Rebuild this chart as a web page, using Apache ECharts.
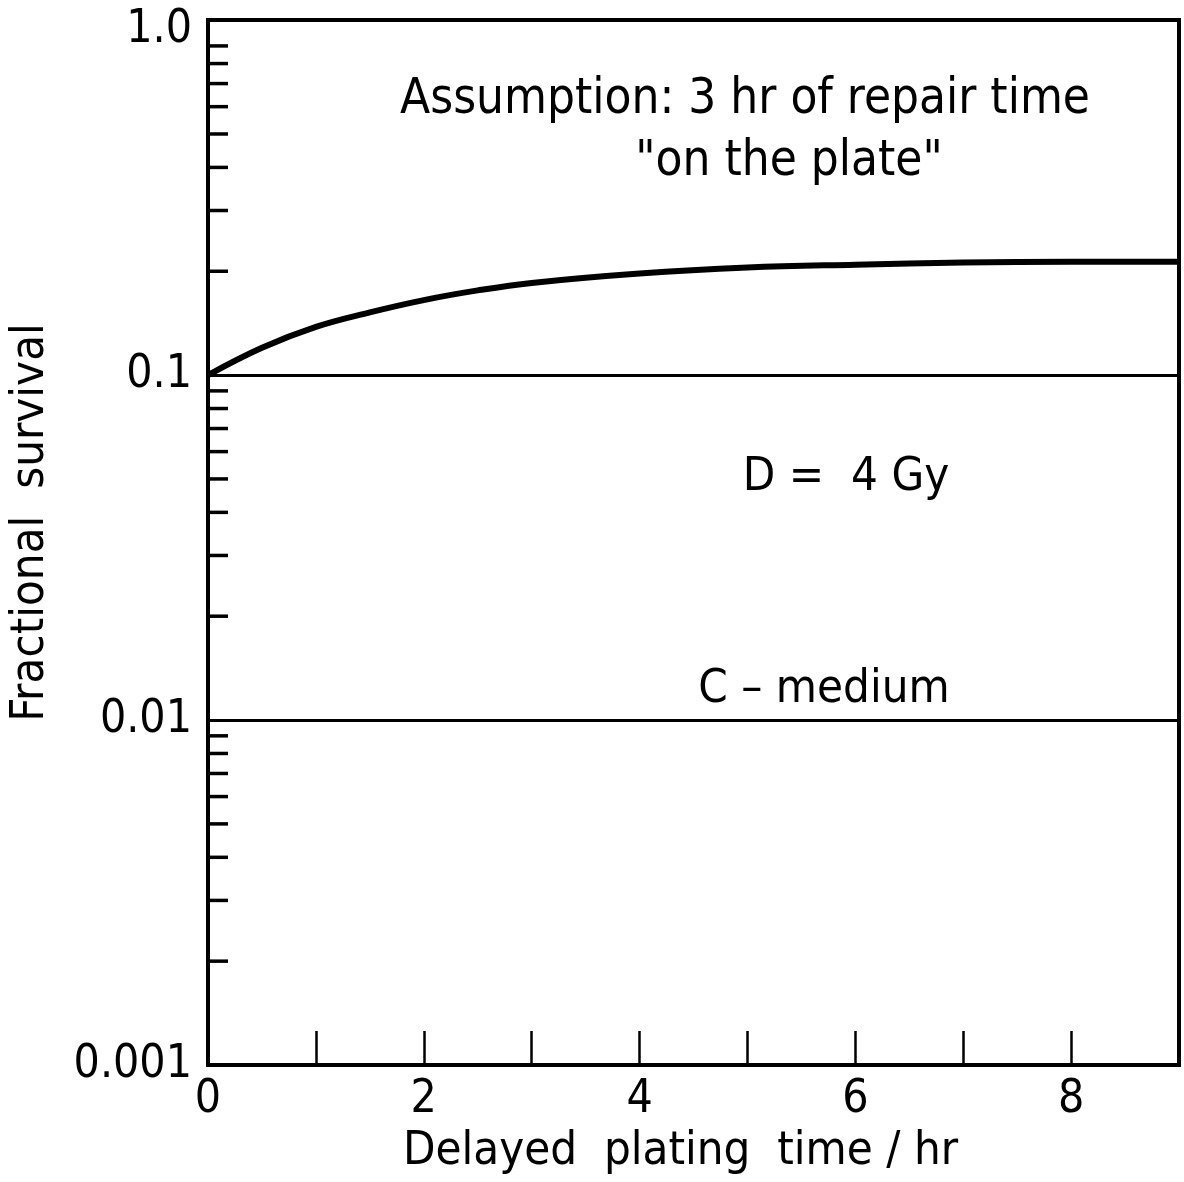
<!DOCTYPE html>
<html>
<head>
<meta charset="utf-8">
<script src="https://cdn.jsdelivr.net/npm/echarts@6/dist/echarts.min.js"></script>
<style>
  html, body { margin: 0; padding: 0; background: #fff; }
  #chart { width: 1184px; height: 1182px; }
</style>
</head>
<body>
<div id="chart"></div>
<script>
// curve: survival vs delayed plating time
const hours = [0, 0.5, 1, 1.5, 2, 2.5, 3, 4, 5, 6, 7, 8, 9];
const survival = [0.100, 0.120, 0.138, 0.152, 0.165, 0.176, 0.185, 0.197, 0.205, 0.209, 0.212, 0.213, 0.213];

// plain horizontal lines drawn across the box
const refLevels = [0.1, 0.01];

// log minor ticks along the left edge
const yMinorTicks = [
    0.002, 0.003, 0.004, 0.005, 0.006, 0.007, 0.008, 0.009,
    0.02, 0.03, 0.04, 0.05, 0.06, 0.07, 0.08, 0.09,
    0.2, 0.3, 0.4, 0.5, 0.6, 0.7, 0.8, 0.9
];
const yLabels = { '-3': '0.001', '-2': '0.01', '-1': '0.1', '0': '1.0' };
const xLabels = ['0', '2', '4', '6', '8'];

const FONT = "'DejaVu Sans Condensed', 'Liberation Sans Narrow', 'DejaVu Sans', sans-serif";

const chart = echarts.init(document.getElementById('chart'));

chart.setOption({
    backgroundColor: '#fff',
    animation: false,
    grid: {
        left: 208, right: 5, top: 20, bottom: 117,
        outerBoundsMode: 'none', containLabel: false,
        show: true, borderColor: '#000', borderWidth: 4
    },
    xAxis: {
        type: 'value', min: 0, max: 9, interval: 1,
        name: 'Delayed  plating  time / hr',
        nameLocation: 'middle', nameGap: 62,
        nameTextStyle: { color: '#000', fontSize: 47, fontFamily: FONT, padding: [0, 26, 0, 0] },
        axisLine: { show: false },
        axisTick: { inside: true, length: 34, lineStyle: { color: '#000', width: 2.5 } },
        axisLabel: {
            color: '#000', fontSize: 46, fontFamily: FONT, margin: 12,
            formatter: v => xLabels.includes(String(v)) ? String(v) : ''
        },
        splitLine: { show: false }
    },
    yAxis: {
        type: 'log', min: 0.001, max: 1.07, logBase: 10,
        name: 'Fractional  survival',
        nameLocation: 'middle', nameGap: 154, nameRotate: 90,
        nameTextStyle: { color: '#000', fontSize: 47, fontFamily: FONT, padding: [0, 0, 0, 40] },
        axisLine: { show: false },
        axisTick: { show: false },
        axisLabel: {
            color: '#000', fontSize: 46, fontFamily: FONT, margin: 16,
            formatter: v => {
                const e = Math.log10(v);
                const r = Math.round(e);
                return Math.abs(e - r) < 1e-6 ? (yLabels[String(r)] || '') : '';
            }
        },
        splitLine: { show: false }
    },
    series: [
        {
            type: 'line',
            data: hours.map((h, i) => [h, survival[i]]),
            smooth: 0.4,
            showSymbol: false,
            lineStyle: { color: '#000', width: 6 },
            z: 3,
            markLine: {
                silent: true,
                symbol: ['none', 'none'],
                label: { show: false },
                lineStyle: { color: '#000', width: 3, type: 'solid' },
                data: refLevels.map(v => ({ yAxis: v }))
            }
        },
        {
            type: 'custom',
            silent: true,
            clip: false,
            data: yMinorTicks.map(v => [0, v]),
            renderItem: function (params, api) {
                const p = api.coord([api.value(0), api.value(1)]);
                return {
                    type: 'line',
                    shape: { x1: p[0], y1: p[1], x2: p[0] + 20, y2: p[1] },
                    style: { stroke: '#000', lineWidth: 3.5 }
                };
            },
            z: 4
        }
    ],
    graphic: [
        {
            type: 'text',
            style: { text: 'Assumption: 3 hr of repair time', fill: '#000', fontSize: 49, fontFamily: FONT,
                x: 745, y: 100, align: 'center', verticalAlign: 'middle' }
        },
        {
            type: 'text',
            style: { text: '"on the plate"', fill: '#000', fontSize: 49, fontFamily: FONT,
                x: 789, y: 162, align: 'center', verticalAlign: 'middle' }
        },
        {
            type: 'text',
            style: { text: 'D =  4 Gy', fill: '#000', fontSize: 47, fontFamily: FONT,
                x: 846, y: 478, align: 'center', verticalAlign: 'middle' }
        },
        {
            type: 'text',
            style: { text: 'C – medium', fill: '#000', fontSize: 47, fontFamily: FONT,
                x: 824, y: 690, align: 'center', verticalAlign: 'middle' }
        }
    ]
});
</script>
</body>
</html>
